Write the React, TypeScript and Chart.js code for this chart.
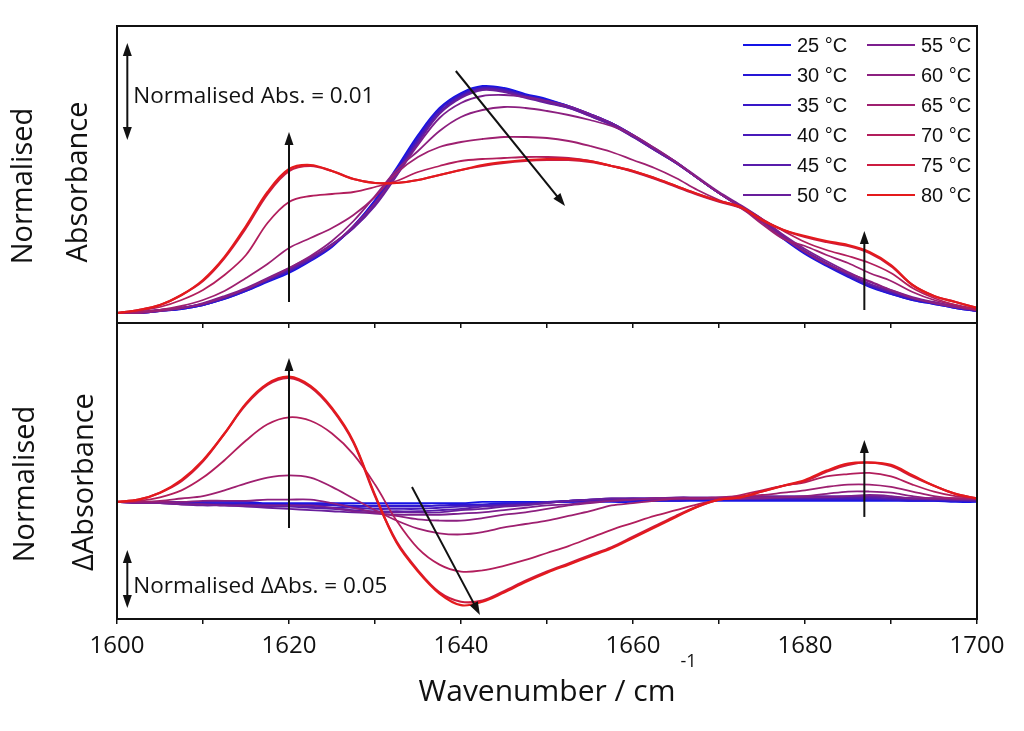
import React, { useEffect, useRef } from "react";
import { Chart, registerables } from "chart.js";

Chart.register(...registerables);

// ---------- data ----------
const wavenumbers = [
  1600, 1602.5, 1605, 1607.5, 1610, 1612.5, 1615, 1617.5, 1620, 1622.5, 1625, 1627.5, 1630, 1632.5,
  1635, 1637.5, 1640, 1642.5, 1645, 1647.5, 1650, 1652.5, 1655, 1657.5, 1660, 1662.5, 1665, 1667.5,
  1670, 1672.5, 1675, 1677.5, 1680, 1682.5, 1685, 1687.5, 1690, 1692.5, 1695, 1697.5, 1700,
];

const temperatureLabels = [
  "25 °C", "30 °C", "35 °C", "40 °C", "45 °C", "50 °C",
  "55 °C", "60 °C", "65 °C", "70 °C", "75 °C", "80 °C",
];

const lineColors = [
  "#1414e6", "#2616d6", "#3818c8", "#481aba", "#581cab", "#681e9c",
  "#7c1f8e", "#8c2080", "#9e2070", "#b21e5c", "#cc1c40", "#e41a1c",
];

// normalised absorbance
const abs25 = [0.0010,0.0010,0.0012,0.0014,0.0018,0.0024,0.0032,0.0041,0.0050,0.0062,0.0076,0.0097,0.0123,0.0155,0.0188,0.0215,0.0230,0.0237,0.0235,0.0229,0.0224,0.0217,0.0209,0.0200,0.0188,0.0174,0.0161,0.0145,0.0130,0.0116,0.0101,0.0084,0.0069,0.0057,0.0046,0.0036,0.0029,0.0023,0.0019,0.0015,0.0012];
const abs30 = [0.0010,0.0010,0.0012,0.0014,0.0018,0.0024,0.0032,0.0042,0.0051,0.0063,0.0077,0.0097,0.0122,0.0153,0.0186,0.0214,0.0229,0.0236,0.0234,0.0228,0.0223,0.0217,0.0209,0.0200,0.0188,0.0174,0.0161,0.0145,0.0130,0.0116,0.0102,0.0085,0.0070,0.0058,0.0047,0.0037,0.0029,0.0023,0.0019,0.0015,0.0012];
const abs35 = [0.0010,0.0010,0.0012,0.0015,0.0018,0.0025,0.0033,0.0042,0.0052,0.0063,0.0077,0.0096,0.0121,0.0152,0.0185,0.0213,0.0228,0.0235,0.0233,0.0227,0.0222,0.0216,0.0208,0.0199,0.0187,0.0174,0.0160,0.0145,0.0130,0.0116,0.0102,0.0085,0.0070,0.0058,0.0047,0.0037,0.0030,0.0024,0.0020,0.0016,0.0012];
const abs40 = [0.0010,0.0010,0.0013,0.0015,0.0019,0.0025,0.0033,0.0043,0.0052,0.0064,0.0078,0.0096,0.0120,0.0150,0.0183,0.0211,0.0227,0.0235,0.0233,0.0227,0.0222,0.0216,0.0208,0.0199,0.0187,0.0173,0.0160,0.0145,0.0130,0.0117,0.0103,0.0086,0.0071,0.0059,0.0048,0.0038,0.0031,0.0024,0.0020,0.0016,0.0012];
const abs45 = [0.0010,0.0010,0.0013,0.0015,0.0019,0.0025,0.0034,0.0043,0.0053,0.0064,0.0078,0.0095,0.0118,0.0149,0.0181,0.0210,0.0226,0.0234,0.0232,0.0226,0.0221,0.0215,0.0207,0.0198,0.0186,0.0173,0.0160,0.0145,0.0130,0.0117,0.0103,0.0086,0.0072,0.0060,0.0049,0.0039,0.0031,0.0025,0.0020,0.0016,0.0013];
const abs50 = [0.0010,0.0011,0.0013,0.0015,0.0019,0.0026,0.0034,0.0044,0.0054,0.0065,0.0079,0.0095,0.0117,0.0147,0.0180,0.0209,0.0225,0.0233,0.0231,0.0225,0.0220,0.0215,0.0207,0.0198,0.0186,0.0173,0.0160,0.0145,0.0130,0.0117,0.0104,0.0087,0.0072,0.0060,0.0049,0.0039,0.0032,0.0025,0.0020,0.0016,0.0013];
const abs55 = [0.0010,0.0011,0.0013,0.0015,0.0020,0.0027,0.0035,0.0045,0.0055,0.0066,0.0078,0.0097,0.0120,0.0148,0.0178,0.0205,0.0220,0.0227,0.0228,0.0226,0.0222,0.0217,0.0209,0.0200,0.0188,0.0175,0.0161,0.0146,0.0131,0.0118,0.0104,0.0088,0.0074,0.0062,0.0051,0.0041,0.0033,0.0026,0.0021,0.0017,0.0013];
const abs60 = [0.0010,0.0010,0.0012,0.0015,0.0019,0.0026,0.0034,0.0044,0.0055,0.0067,0.0082,0.0102,0.0127,0.0153,0.0172,0.0192,0.0206,0.0213,0.0216,0.0215,0.0212,0.0208,0.0203,0.0197,0.0188,0.0175,0.0161,0.0145,0.0130,0.0116,0.0101,0.0085,0.0071,0.0059,0.0050,0.0042,0.0033,0.0025,0.0020,0.0016,0.0013];
const abs65 = [0.0010,0.0011,0.0013,0.0017,0.0023,0.0032,0.0045,0.0059,0.0075,0.0085,0.0095,0.0108,0.0126,0.0150,0.0166,0.0176,0.0181,0.0184,0.0186,0.0186,0.0185,0.0182,0.0177,0.0171,0.0163,0.0155,0.0145,0.0133,0.0123,0.0115,0.0099,0.0084,0.0077,0.0068,0.0060,0.0050,0.0042,0.0031,0.0023,0.0018,0.0014];
const abs70 = [0.0010,0.0012,0.0016,0.0023,0.0033,0.0048,0.0068,0.0100,0.0121,0.0127,0.0129,0.0131,0.0136,0.0142,0.0151,0.0157,0.0162,0.0164,0.0165,0.0166,0.0166,0.0165,0.0162,0.0157,0.0151,0.0144,0.0136,0.0128,0.0121,0.0115,0.0104,0.0092,0.0081,0.0073,0.0067,0.0060,0.0050,0.0035,0.0025,0.0018,0.0013];
const abs75 = [0.0010,0.0013,0.0018,0.0028,0.0042,0.0065,0.0095,0.0129,0.0152,0.0157,0.0152,0.0144,0.0140,0.0140,0.0143,0.0148,0.0153,0.0157,0.0160,0.0162,0.0163,0.0163,0.0161,0.0157,0.0152,0.0145,0.0137,0.0129,0.0122,0.0116,0.0103,0.0093,0.0086,0.0081,0.0077,0.0070,0.0057,0.0038,0.0027,0.0021,0.0015];
const abs80 = [0.0010,0.0013,0.0018,0.0028,0.0043,0.0066,0.0097,0.0131,0.0154,0.0158,0.0152,0.0144,0.0140,0.0140,0.0143,0.0148,0.0153,0.0158,0.0161,0.0163,0.0164,0.0164,0.0162,0.0157,0.0152,0.0145,0.0137,0.0129,0.0122,0.0116,0.0103,0.0093,0.0087,0.0082,0.0078,0.0071,0.0058,0.0038,0.0027,0.0021,0.0015];

// normalised difference absorbance
const dAbs25 = [0,0,0,0,0,0,0,-0.001,-0.001,-0.001,-0.001,-0.001,-0.001,-0.001,-0.001,-0.001,-0.001,0,0,0,0,0,0,0,0,0.001,0.001,0.001,0.001,0.001,0.001,0.001,0.001,0.001,0.001,0.001,0.001,0.001,0.001,0,0];
const dAbs30 = [0,0,0,-0.001,-0.001,-0.001,-0.001,-0.002,-0.002,-0.002,-0.002,-0.003,-0.003,-0.003,-0.003,-0.003,-0.002,-0.002,-0.001,-0.001,0,0,0.001,0.001,0.001,0.001,0.001,0.002,0.002,0.002,0.002,0.002,0.002,0.002,0.002,0.002,0.002,0.001,0.001,0.001,0.001];
const dAbs35 = [0,0,-0.001,-0.001,-0.001,-0.002,-0.002,-0.003,-0.003,-0.003,-0.003,-0.004,-0.004,-0.004,-0.004,-0.003,-0.003,-0.003,-0.002,-0.001,0,0.001,0.001,0.002,0.002,0.002,0.002,0.003,0.003,0.003,0.003,0.003,0.003,0.003,0.003,0.003,0.002,0.002,0.002,0.001,0.001];
const dAbs40 = [0,0,-0.001,-0.001,-0.002,-0.002,-0.003,-0.003,-0.003,-0.004,-0.005,-0.005,-0.006,-0.006,-0.006,-0.005,-0.004,-0.003,-0.003,-0.002,0,0.001,0.002,0.002,0.003,0.003,0.003,0.003,0.003,0.003,0.003,0.003,0.003,0.003,0.003,0.003,0.003,0.003,0.002,0.002,0.001];
const dAbs45 = [0,-0.001,-0.001,-0.002,-0.002,-0.003,-0.003,-0.004,-0.004,-0.005,-0.006,-0.007,-0.008,-0.008,-0.008,-0.007,-0.006,-0.004,-0.003,-0.002,-0.001,0.001,0.002,0.003,0.003,0.003,0.003,0.003,0.003,0.004,0.004,0.004,0.004,0.004,0.004,0.004,0.003,0.003,0.003,0.002,0.001];
const dAbs50 = [0,-0.001,-0.001,-0.002,-0.003,-0.003,-0.004,-0.005,-0.006,-0.007,-0.008,-0.009,-0.009,-0.009,-0.009,-0.009,-0.007,-0.006,-0.004,-0.003,-0.001,0.001,0.002,0.003,0.003,0.003,0.004,0.004,0.004,0.004,0.005,0.005,0.005,0.005,0.005,0.005,0.004,0.003,0.003,0.002,0.002];
const dAbs55 = [0,-0.001,-0.001,-0.002,-0.002,-0.003,-0.003,-0.003,-0.003,-0.003,-0.005,-0.008,-0.010,-0.011,-0.011,-0.011,-0.010,-0.009,-0.007,-0.005,-0.003,-0.002,0,0.001,0.002,0.003,0.003,0.003,0.003,0.003,0.003,0.004,0.004,0.004,0.005,0.006,0.005,0.003,0.003,0.003,0.002];
const dAbs60 = [0,0,0,0,0.001,0.001,0.001,0.002,0.002,0.002,-0.001,-0.005,-0.009,-0.012,-0.015,-0.016,-0.016,-0.014,-0.011,-0.009,-0.006,-0.003,-0.001,0.001,0.002,0.003,0.003,0.003,0.003,0.003,0.004,0.004,0.005,0.007,0.009,0.009,0.008,0.005,0.003,0.003,0.003];
const dAbs65 = [0,0,0.001,0.003,0.005,0.010,0.016,0.021,0.023,0.021,0.013,0.003,-0.007,-0.016,-0.023,-0.027,-0.028,-0.026,-0.022,-0.019,-0.016,-0.012,-0.008,-0.003,-0.001,0.001,0.003,0.003,0.004,0.005,0.006,0.008,0.010,0.013,0.015,0.015,0.013,0.009,0.005,0.003,0.003];
const dAbs70 = [0,0.001,0.004,0.010,0.021,0.036,0.053,0.067,0.073,0.070,0.059,0.041,0.015,-0.016,-0.040,-0.054,-0.060,-0.059,-0.055,-0.050,-0.044,-0.038,-0.031,-0.024,-0.018,-0.012,-0.007,-0.002,0.002,0.006,0.010,0.014,0.017,0.022,0.024,0.025,0.022,0.015,0.009,0.005,0.003];
const dAbs75 = [0,0.002,0.008,0.018,0.035,0.059,0.084,0.101,0.107,0.099,0.080,0.051,0.005,-0.034,-0.059,-0.078,-0.086,-0.085,-0.077,-0.068,-0.060,-0.053,-0.046,-0.039,-0.030,-0.021,-0.012,-0.004,0.002,0.004,0.009,0.014,0.018,0.026,0.032,0.034,0.031,0.022,0.014,0.007,0.003];
const dAbs80 = [0,0.002,0.008,0.019,0.036,0.059,0.085,0.102,0.108,0.100,0.081,0.052,0.006,-0.035,-0.060,-0.079,-0.089,-0.086,-0.078,-0.069,-0.061,-0.054,-0.047,-0.040,-0.031,-0.022,-0.013,-0.004,0.002,0.004,0.009,0.014,0.019,0.027,0.033,0.034,0.032,0.023,0.014,0.007,0.003];

const absSeries = [abs25, abs30, abs35, abs40, abs45, abs50, abs55, abs60, abs65, abs70, abs75, abs80];
const dAbsSeries = [dAbs25, dAbs30, dAbs35, dAbs40, dAbs45, dAbs50, dAbs55, dAbs60, dAbs65, dAbs70, dAbs75, dAbs80];

// annotations (in data units)
const topArrows = [
  { x1: 1620, y1: 0.0021, x2: 1620, y2: 0.0191 },
  { x1: 1639.4, y1: 0.0252, x2: 1652.1, y2: 0.0117 },
  { x1: 1686.9, y1: 0.0013, x2: 1686.9, y2: 0.0092 },
];
const topScaleBar = { x: 1601.2, y1: 0.0183, y2: 0.028 };
const topScaleLabel = { x: 1601.9, y: 0.022, text: "Normalised Abs. = 0.01" };

const bottomArrows = [
  { x1: 1620, y1: -0.0224, x2: 1620, y2: 0.1241 },
  { x1: 1634.3, y1: 0.0129, x2: 1642.2, y2: -0.0974 },
  { x1: 1686.9, y1: -0.0129, x2: 1686.9, y2: 0.0534 },
];
const bottomScaleBar = { x: 1601.2, y1: -0.0414, y2: -0.0914 };
const bottomScaleLabel = { x: 1601.9, y: -0.0784, text: "Normalised ΔAbs. = 0.05" };

const xMin = 1600;
const xMax = 1700;
const xStep = 10;
const xLabelStep = 20;

// ---------- drawing helpers ----------
const FONT = '"Open Sans", "DejaVu Sans", sans-serif';
const LEGEND_FONT = '"Liberation Sans", Arial, sans-serif';
const INK = "#111";

function drawHead(ctx: CanvasRenderingContext2D, fx: number, fy: number, tx: number, ty: number) {
  const a = Math.atan2(ty - fy, tx - fx);
  const L = 13;
  const W = 4.5;
  ctx.beginPath();
  ctx.moveTo(tx, ty);
  ctx.lineTo(tx - L * Math.cos(a) + W * Math.sin(a), ty - L * Math.sin(a) - W * Math.cos(a));
  ctx.lineTo(tx - L * Math.cos(a) - W * Math.sin(a), ty - L * Math.sin(a) + W * Math.cos(a));
  ctx.closePath();
  ctx.fill();
}

function drawArrow(ctx: CanvasRenderingContext2D, x1: number, y1: number, x2: number, y2: number, both = false) {
  const a = Math.atan2(y2 - y1, x2 - x1);
  const sx = both ? x1 + 8 * Math.cos(a) : x1;
  const sy = both ? y1 + 8 * Math.sin(a) : y1;
  ctx.beginPath();
  ctx.moveTo(sx, sy);
  ctx.lineTo(x2 - 8 * Math.cos(a), y2 - 8 * Math.sin(a));
  ctx.stroke();
  drawHead(ctx, x1, y1, x2, y2);
  if (both) drawHead(ctx, x2, y2, x1, y1);
}

function rotatedText(ctx: CanvasRenderingContext2D, text: string, baselineX: number, centerY: number) {
  ctx.save();
  ctx.translate(baselineX, centerY);
  ctx.rotate(-Math.PI / 2);
  ctx.textAlign = "center";
  ctx.textBaseline = "alphabetic";
  ctx.fillText(text, 0, 0);
  ctx.restore();
}

function decorPlugin(panel: "top" | "bottom") {
  return {
    id: "decor-" + panel,
    afterDraw(chart: any) {
      const { ctx, chartArea: a, scales } = chart;
      const xs = scales.x;
      const ys = scales.y;
      ctx.save();
      ctx.strokeStyle = INK;
      ctx.fillStyle = INK;
      ctx.lineWidth = 2;
      ctx.strokeRect(a.left, a.top, a.right - a.left, a.bottom - a.top);

      const arrows = panel === "top" ? topArrows : bottomArrows;
      const bar = panel === "top" ? topScaleBar : bottomScaleBar;
      const lab = panel === "top" ? topScaleLabel : bottomScaleLabel;
      ctx.lineWidth = 2;
      arrows.forEach((ar) => {
        drawArrow(ctx, xs.getPixelForValue(ar.x1), ys.getPixelForValue(ar.y1), xs.getPixelForValue(ar.x2), ys.getPixelForValue(ar.y2));
      });
      const bx = xs.getPixelForValue(bar.x);
      drawArrow(ctx, bx, ys.getPixelForValue(bar.y1), bx, ys.getPixelForValue(bar.y2), true);

      ctx.font = `22.5px ${FONT}`;
      ctx.textAlign = "left";
      ctx.textBaseline = "alphabetic";
      ctx.fillText(lab.text, xs.getPixelForValue(lab.x), ys.getPixelForValue(lab.y));

      // y titles
      ctx.font = `29px ${FONT}`;
      if (panel === "top") {
        rotatedText(ctx, "Normalised", 32, 186);
        rotatedText(ctx, "Absorbance", 87, 182);
      } else {
        rotatedText(ctx, "Normalised", 34, 484);
        rotatedText(ctx, "ΔAbsorbance", 93, 482);
        // x title
        ctx.font = `30px ${FONT}`;
        ctx.textAlign = "center";
        const title = "Wavenumber / cm";
        const cx = (a.left + a.right) / 2;
        ctx.fillText(title, cx, 701);
        const w = ctx.measureText(title).width;
        ctx.font = `18px ${FONT}`;
        ctx.textAlign = "left";
        ctx.fillText("-1", cx + w / 2 + 5, 667);
      }

      if (panel === "top") {
        // legend
        ctx.font = `20px ${LEGEND_FONT}`;
        ctx.textBaseline = "middle";
        ctx.textAlign = "left";
        chart.data.datasets.forEach((ds: any, i: number) => {
          const col = Math.floor(i / 6);
          const row = i % 6;
          const y = 45 + row * 30;
          const lx = col === 0 ? 743 : 867;
          ctx.strokeStyle = ds.borderColor;
          ctx.lineWidth = 2;
          ctx.beginPath();
          ctx.moveTo(lx, y);
          ctx.lineTo(lx + 48, y);
          ctx.stroke();
          ctx.fillStyle = INK;
          ctx.fillText(ds.label, lx + 54, y + 1);
        });
      }
      ctx.restore();
    },
  };
}

function buildConfig(panel: "top" | "bottom"): any {
  const series = panel === "top" ? absSeries : dAbsSeries;
  const datasets = series.map((s, i) => ({
    label: temperatureLabels[i],
    data: wavenumbers.map((w, j) => ({ x: w, y: s[j] })),
    borderColor: lineColors[i],
    backgroundColor: lineColors[i],
    borderWidth: i >= 10 ? 2.2 : 1.8,
    pointRadius: 0,
    fill: false,
    tension: 0.35,
    order: series.length - 1 - i,
  }));
  return {
    type: "line",
    data: { datasets },
    options: {
      responsive: false,
      maintainAspectRatio: false,
      animation: false,
      events: [],
      layout: {
        padding: panel === "top"
          ? { top: 26, left: 117, right: 47, bottom: 0 }
          : { top: 323, left: 117, right: 47, bottom: 0 },
      },
      plugins: { legend: { display: false }, tooltip: { enabled: false } },
      scales: {
        x: {
          type: "linear",
          min: xMin,
          max: xMax,
          afterFit: (s: any) => { s.height = panel === "top" ? 408 : 112; },
          border: { display: false },
          grid: {
            display: true,
            drawOnChartArea: false,
            drawTicks: true,
            tickLength: 5,
            color: INK,
            lineWidth: 1.5,
          },
          ticks: {
            display: panel === "bottom",
            stepSize: xStep,
            autoSkip: false,
            maxRotation: 0,
            padding: 8,
            color: INK,
            font: { family: FONT, size: 24 },
            callback: (v: any) => (Number(v) % xLabelStep === 0 ? String(v) : ""),
          },
        },
        y: panel === "top"
          ? { display: false, min: 0, max: 0.0297 }
          : { display: false, min: -0.1009, max: 0.1543 },
      },
    },
    plugins: [decorPlugin(panel)],
  };
}

export default function App() {
  const topRef = useRef<HTMLCanvasElement>(null);
  const bottomRef = useRef<HTMLCanvasElement>(null);
  useEffect(() => {
    const c1 = new Chart(topRef.current as HTMLCanvasElement, buildConfig("top"));
    const c2 = new Chart(bottomRef.current as HTMLCanvasElement, buildConfig("bottom"));
    return () => {
      c1.destroy();
      c2.destroy();
    };
  }, []);
  const canvasStyle: React.CSSProperties = { position: "absolute", left: 0, top: 0, width: 1024, height: 731 };
  return (
    <div style={{ position: "absolute", left: 0, top: 0, width: 1024, height: 731, background: "#fff", overflow: "hidden" }}>
      <canvas ref={topRef} width={1024} height={731} style={canvasStyle} />
      <canvas ref={bottomRef} width={1024} height={731} style={canvasStyle} />
    </div>
  );
}
